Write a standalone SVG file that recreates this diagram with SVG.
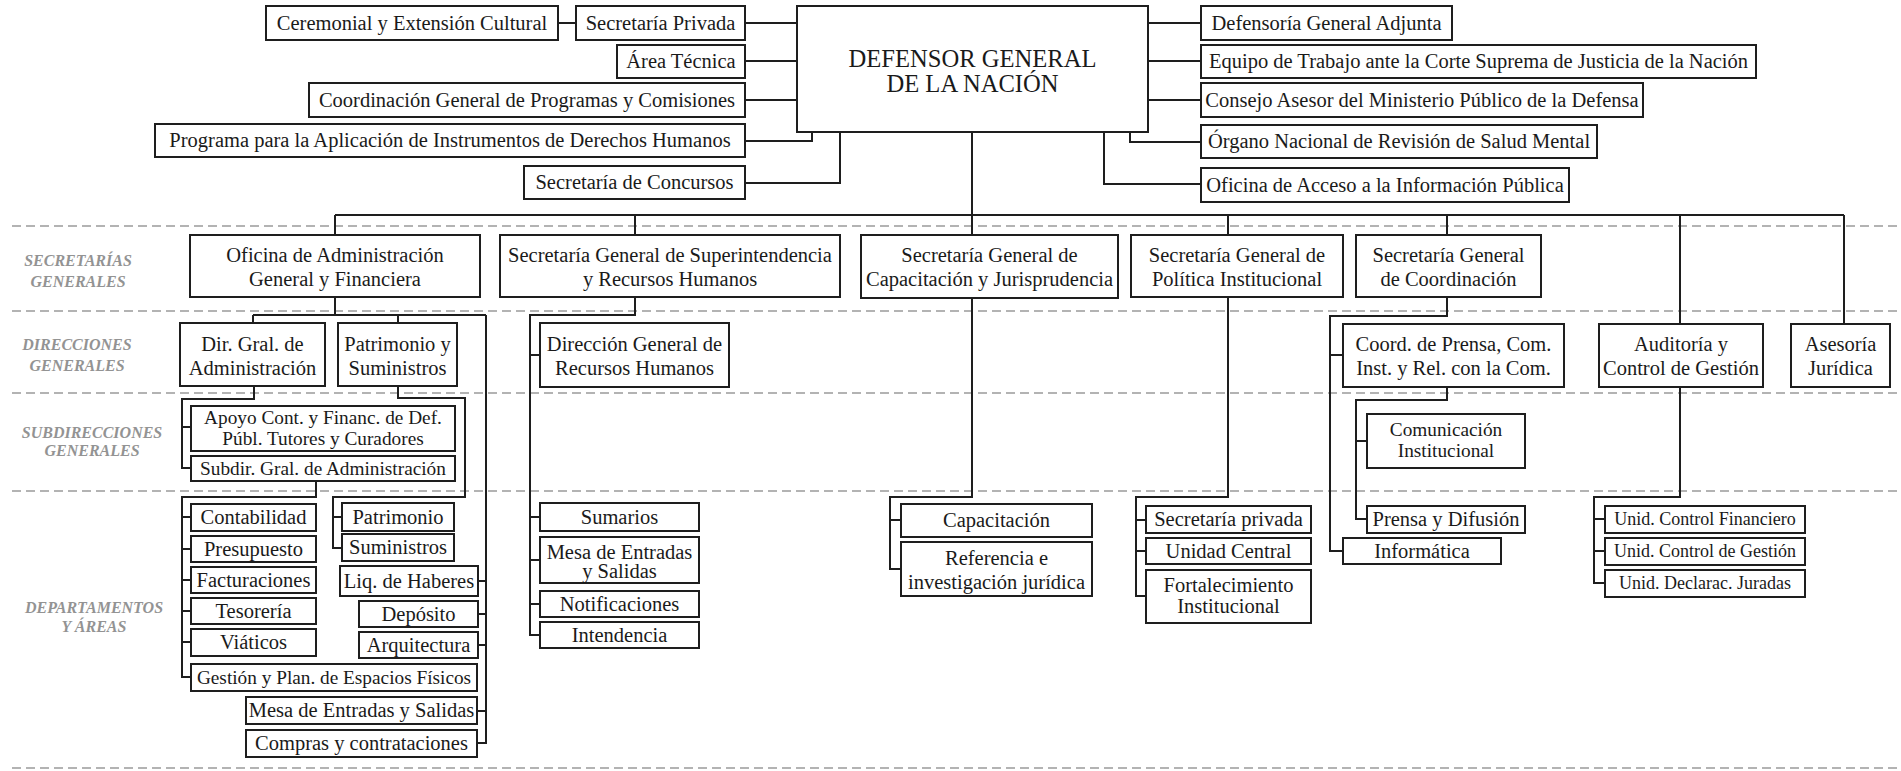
<svg xmlns="http://www.w3.org/2000/svg" width="1901" height="771" viewBox="0 0 1901 771">
<style>
.b{fill:#fff;stroke:#1e1e1e;stroke-width:2}
.t{font-family:"Liberation Serif","Times New Roman",serif;font-size:20.5px;fill:#1a1a1a;text-anchor:middle}
.s{font-size:19.3px}
.u{font-size:18px}
.big{font-size:24.6px}
.lb{font-family:"Liberation Serif","Times New Roman",serif;font-size:16px;font-style:italic;font-weight:bold;fill:#939393;text-anchor:middle}
.d{stroke:#9a9a9a;stroke-width:1.6;stroke-dasharray:9 5;fill:none}
.c{stroke:#1e1e1e;stroke-width:2;fill:none}
</style>
<rect width="1901" height="771" fill="#fff"/>
<g id="dividers">
<line class="d" x1="12" y1="226" x2="1901" y2="226"/>
<line class="d" x1="12" y1="311" x2="1901" y2="311"/>
<line class="d" x1="12" y1="393" x2="1901" y2="393"/>
<line class="d" x1="12" y1="491" x2="1901" y2="491"/>
<line class="d" x1="12" y1="768" x2="1901" y2="768"/>
</g>
<g id="row-labels">
<text class="lb" x="78" y="266">SECRETARÍAS</text>
<text class="lb" x="78" y="287">GENERALES</text>
<text class="lb" x="77" y="350">DIRECCIONES</text>
<text class="lb" x="77" y="371">GENERALES</text>
<text class="lb" x="92" y="438">SUBDIRECCIONES</text>
<text class="lb" x="92" y="456">GENERALES</text>
<text class="lb" x="94" y="613">DEPARTAMENTOS</text>
<text class="lb" x="94" y="632">Y ÁREAS</text>
</g>
<g id="connectors">
<path class="c" d="M558 23H576M745 23H797M745 61H797M745 100H797M745 141H812V132M745 183H840V132"/>
<path class="c" d="M1148 23H1201M1148 61H1201M1148 100H1201M1130 132V142H1201M1104 132V184H1201"/>
<path class="c" d="M972 132V235M335 215H1844M335 215V235M635 215V235M1228 215V235M1447 215V235M1680 215V324M1844 215V324"/>
<path class="c" d="M335 297V315M253 315H486M253 315V323M398 315V323M486 315V743H477M478 581H486M478 614H486M478 645H486M477 711H486"/>
<path class="c" d="M254 386V399H182V468H191M182 427H191"/>
<path class="c" d="M398 386V398H465V497H333V548H342M333 517H342"/>
<path class="c" d="M316 481V497H182V677H191M182 517H191M182 549H191M182 580H191M182 611H191M182 642H191"/>
<path class="c" d="M635 297V315H530V635H540M530 355H540M530 517H540M530 560H540M530 604H540"/>
<path class="c" d="M972 298V497H890V569H901M890 520H901"/>
<path class="c" d="M1228 297V497H1136V596H1146M1136 520H1146M1136 551H1146"/>
<path class="c" d="M1447 297V316H1330V551H1343M1330 355H1343"/>
<path class="c" d="M1447 387V400H1356V519H1367M1356 441H1367"/>
<path class="c" d="M1680 387V497H1594V583H1605M1594 519H1605M1594 551H1605"/>
</g>
<g id="n-defensor"><rect class="b" x="797" y="6" width="351" height="126"/><text class="t big" x="972.5" y="67">DEFENSOR GENERAL</text><text class="t big" x="972.5" y="92">DE LA NACIÓN</text></g>
<g id="n-ceremonial"><rect class="b" x="266" y="6" width="292" height="34"/><text class="t" x="412" y="30">Ceremonial y Extensión Cultural</text></g>
<g id="n-secprivada"><rect class="b" x="576" y="6" width="169" height="34"/><text class="t" x="660.5" y="30">Secretaría Privada</text></g>
<g id="n-areatecnica"><rect class="b" x="617" y="45" width="128" height="33"/><text class="t" x="681" y="68">Área Técnica</text></g>
<g id="n-coordgral"><rect class="b" x="309" y="83" width="436" height="34"/><text class="t" x="527" y="107">Coordinación General de Programas y Comisiones</text></g>
<g id="n-programa"><rect class="b" x="155" y="124" width="590" height="33"/><text class="t" x="450" y="147">Programa para la Aplicación de Instrumentos de Derechos Humanos</text></g>
<g id="n-concursos"><rect class="b" x="524" y="166" width="221" height="33"/><text class="t" x="634.5" y="189">Secretaría de Concursos</text></g>
<g id="n-adjunta"><rect class="b" x="1201" y="6" width="251" height="34"/><text class="t" x="1326.5" y="30">Defensoría General Adjunta</text></g>
<g id="n-equipo"><rect class="b" x="1201" y="45" width="555" height="33"/><text class="t" x="1478.5" y="68">Equipo de Trabajo ante la Corte Suprema de Justicia de la Nación</text></g>
<g id="n-consejo"><rect class="b" x="1201" y="83" width="442" height="34"/><text class="t" x="1422" y="107">Consejo Asesor del Ministerio Público de la Defensa</text></g>
<g id="n-organo"><rect class="b" x="1201" y="125" width="396" height="33"/><text class="t" x="1399" y="148">Órgano Nacional de Revisión de Salud Mental</text></g>
<g id="n-acceso"><rect class="b" x="1201" y="168" width="368" height="34"/><text class="t" x="1385" y="192">Oficina de Acceso a la Información Pública</text></g>
<g id="n-oficina-adm"><rect class="b" x="190" y="235" width="290" height="62"/><text class="t" x="335" y="262">Oficina de Administración</text><text class="t" x="335" y="286">General y Financiera</text></g>
<g id="n-sg-super"><rect class="b" x="500" y="235" width="340" height="62"/><text class="t" x="670" y="262">Secretaría General de Superintendencia</text><text class="t" x="670" y="286">y Recursos Humanos</text></g>
<g id="n-sg-capac"><rect class="b" x="861" y="235" width="257" height="63"/><text class="t" x="989.5" y="262">Secretaría General de</text><text class="t" x="989.5" y="286">Capacitación y Jurisprudencia</text></g>
<g id="n-sg-polit"><rect class="b" x="1131" y="235" width="212" height="62"/><text class="t" x="1237" y="262">Secretaría General de</text><text class="t" x="1237" y="286">Política Institucional</text></g>
<g id="n-sg-coord"><rect class="b" x="1356" y="235" width="185" height="62"/><text class="t" x="1448.5" y="262">Secretaría General</text><text class="t" x="1448.5" y="286">de Coordinación</text></g>
<g id="n-dir-adm"><rect class="b" x="180" y="323" width="145" height="63"/><text class="t" x="252.5" y="351">Dir. Gral. de</text><text class="t" x="252.5" y="375">Administración</text></g>
<g id="n-patsum"><rect class="b" x="338" y="323" width="119" height="63"/><text class="t" x="397.5" y="351">Patrimonio y</text><text class="t" x="397.5" y="375">Suministros</text></g>
<g id="n-dir-rrhh"><rect class="b" x="540" y="323" width="189" height="64"/><text class="t" x="634.5" y="351">Dirección General de</text><text class="t" x="634.5" y="375">Recursos Humanos</text></g>
<g id="n-coord-prensa"><rect class="b" x="1343" y="324" width="221" height="63"/><text class="t" x="1453.5" y="351">Coord. de Prensa, Com.</text><text class="t" x="1453.5" y="375">Inst. y Rel. con la Com.</text></g>
<g id="n-auditoria"><rect class="b" x="1599" y="324" width="164" height="63"/><text class="t" x="1681" y="351">Auditoría y</text><text class="t" x="1681" y="375">Control de Gestión</text></g>
<g id="n-asesoria"><rect class="b" x="1791" y="324" width="99" height="63"/><text class="t" x="1840.5" y="351">Asesoría</text><text class="t" x="1840.5" y="375">Jurídica</text></g>
<g id="n-apoyo"><rect class="b" x="191" y="406" width="264" height="45"/><text class="t s" x="323" y="424">Apoyo Cont. y Financ. de Def.</text><text class="t s" x="323" y="445">Públ. Tutores y Curadores</text></g>
<g id="n-subdir"><rect class="b" x="191" y="456" width="264" height="25"/><text class="t s" x="323" y="475">Subdir. Gral. de Administración</text></g>
<g id="n-comunic"><rect class="b" x="1367" y="414" width="158" height="54"/><text class="t s" x="1446" y="436">Comunicación</text><text class="t s" x="1446" y="457">Institucional</text></g>
<g id="n-contab"><rect class="b" x="191" y="504" width="125" height="27"/><text class="t" x="253.5" y="524">Contabilidad</text></g>
<g id="n-presup"><rect class="b" x="191" y="536" width="125" height="26"/><text class="t" x="253.5" y="556">Presupuesto</text></g>
<g id="n-factur"><rect class="b" x="191" y="567" width="125" height="26"/><text class="t" x="253.5" y="587">Facturaciones</text></g>
<g id="n-tesor"><rect class="b" x="191" y="598" width="125" height="26"/><text class="t" x="253.5" y="618">Tesorería</text></g>
<g id="n-viat"><rect class="b" x="191" y="629" width="125" height="27"/><text class="t" x="253.5" y="649">Viáticos</text></g>
<g id="n-gestion"><rect class="b" x="191" y="664" width="286" height="27"/><text class="t s" x="334" y="684">Gestión y Plan. de Espacios Físicos</text></g>
<g id="n-patrim"><rect class="b" x="342" y="503" width="112" height="28"/><text class="t" x="398" y="524">Patrimonio</text></g>
<g id="n-sumin"><rect class="b" x="342" y="534" width="112" height="27"/><text class="t" x="398" y="554">Suministros</text></g>
<g id="n-liq"><rect class="b" x="340" y="566" width="138" height="30"/><text class="t" x="409" y="588">Liq. de Haberes</text></g>
<g id="n-depos"><rect class="b" x="359" y="601" width="119" height="26"/><text class="t" x="418.5" y="621">Depósito</text></g>
<g id="n-arq"><rect class="b" x="359" y="632" width="119" height="26"/><text class="t" x="418.5" y="652">Arquitectura</text></g>
<g id="n-mesa-adm"><rect class="b" x="246" y="697" width="231" height="27"/><text class="t" x="361.5" y="717">Mesa de Entradas y Salidas</text></g>
<g id="n-compras"><rect class="b" x="246" y="730" width="231" height="27"/><text class="t" x="361.5" y="750">Compras y contrataciones</text></g>
<g id="n-sumarios"><rect class="b" x="540" y="503" width="159" height="28"/><text class="t" x="619.5" y="524">Sumarios</text></g>
<g id="n-mesa-rrhh"><rect class="b" x="540" y="537" width="159" height="46"/><text class="t" x="619.5" y="559">Mesa de Entradas</text><text class="t" x="619.5" y="578">y Salidas</text></g>
<g id="n-notif"><rect class="b" x="540" y="591" width="159" height="26"/><text class="t" x="619.5" y="611">Notificaciones</text></g>
<g id="n-intend"><rect class="b" x="540" y="622" width="159" height="26"/><text class="t" x="619.5" y="642">Intendencia</text></g>
<g id="n-capacit"><rect class="b" x="901" y="504" width="191" height="33"/><text class="t" x="996.5" y="527">Capacitación</text></g>
<g id="n-referencia"><rect class="b" x="901" y="542" width="191" height="54"/><text class="t" x="996.5" y="565">Referencia e</text><text class="t" x="996.5" y="589">investigación jurídica</text></g>
<g id="n-secpriv2"><rect class="b" x="1146" y="506" width="165" height="27"/><text class="t" x="1228.5" y="526">Secretaría privada</text></g>
<g id="n-unidad-central"><rect class="b" x="1146" y="538" width="165" height="26"/><text class="t" x="1228.5" y="558">Unidad Central</text></g>
<g id="n-fortalec"><rect class="b" x="1146" y="570" width="165" height="53"/><text class="t" x="1228.5" y="592">Fortalecimiento</text><text class="t" x="1228.5" y="613">Institucional</text></g>
<g id="n-prensa"><rect class="b" x="1367" y="506" width="158" height="27"/><text class="t" x="1446" y="526">Prensa y Difusión</text></g>
<g id="n-informatica"><rect class="b" x="1343" y="538" width="158" height="26"/><text class="t" x="1422" y="558">Informática</text></g>
<g id="n-unid-fin"><rect class="b" x="1605" y="506" width="200" height="27"/><text class="t u" x="1705" y="525">Unid. Control Financiero</text></g>
<g id="n-unid-gest"><rect class="b" x="1605" y="538" width="200" height="27"/><text class="t u" x="1705" y="557">Unid. Control de Gestión</text></g>
<g id="n-unid-dj"><rect class="b" x="1605" y="570" width="200" height="27"/><text class="t u" x="1705" y="589">Unid. Declarac. Juradas</text></g>
</svg>
